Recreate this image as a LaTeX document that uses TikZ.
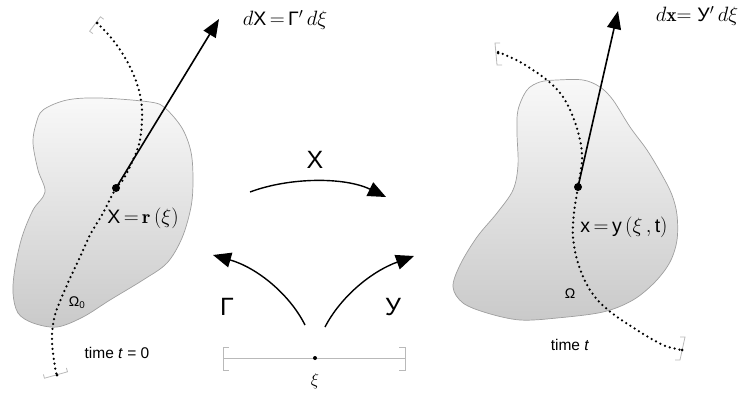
\documentclass[tikz,border=0pt]{standalone}
\usepackage{fontspec}
\setsansfont{Liberation Sans}
\usetikzlibrary{arrows.meta}
\begin{document}
\begin{tikzpicture}[x=1pt,y=-1pt,
  blob/.style={draw=gray!75,line width=0.7pt,top color=gray!5,bottom color=gray!42},
  traj/.style={line width=2.5pt,line cap=round,dash pattern=on 0pt off 5pt},
  bigarrow/.style={line width=1.6pt,-{Triangle[length=18pt,width=14pt]}},
  maparrow/.style={line width=1.4pt,-{Triangle[length=18pt,width=15pt]}},
  brk/.style={draw=gray!55,line width=0.8pt},
  enddot/.style={circle,fill=black,inner sep=0pt,minimum size=3pt},
  ptdot/.style={circle,fill=black,inner sep=0pt,minimum size=8pt},
  lbl/.style={inner sep=0pt,font=\fontsize{19.5}{21}\selectfont},
  biglbl/.style={inner sep=0pt,font=\sffamily\fontsize{25}{27}\selectfont},
  small/.style={inner sep=0pt,font=\sffamily\fontsize{15.5}{17}\selectfont}
]
\path[use as bounding box] (0,0) rectangle (751,396);

% ---------- left body ----------
\draw[blob] plot[smooth cycle,tension=0.55] coordinates {
 (43,110) (67,100) (100,98) (150,102) (165,108) (182,128) (191,152) (193,180)
 (191,207) (182,238) (167,263) (143,280) (110,300) (83,317) (57,327) (33,323)
 (18,313) (13,293) (15,268) (22,237) (33,210) (45,192) (38,170) (33,143) (36,124)};
\draw[traj] plot[smooth,tension=0.6] coordinates {
 (97,23) (113,40) (128,63) (138,87) (142,110) (140,140) (133,160) (123,180) (116,188)
 (103,213) (90,235) (80,257) (67,285) (55,315) (52,340) (55,367) (57,375)};
\draw[brk] (103.6,19.2) -- (100.4,16.8) -- (89.6,31.2) -- (92.8,33.6);
\draw[brk] (66.4,368) -- (67.5,371.8) -- (44.5,378.2) -- (43.4,374.4);
\node[enddot] (La) at (97,23) {};
\node[enddot] (Lb) at (57,375) {};
\node[ptdot] (P) at (116,188) {};
\coordinate (Ptip) at (219,19);
\draw[bigarrow] (P.center) -- (Ptip);
\node[lbl] (dX) at (285,20) {$d$\textsf{X}$\,=\,$\textsf{Γ}$'\,d\xi$};
\node[lbl] (Xr) at (143,218) {\textsf{X}$\,{=}\,\mathbf{r}\,(\xi)$};
\node[small,font=\sffamily\fontsize{14}{16}\selectfont] (O0) at (77,303) {Ω\textsubscript{0}};
\node[small] (t0) at (117,353) {time \textit{t} = 0};

% ---------- right body ----------
\draw[blob] plot[smooth cycle,tension=0.55] coordinates {
 (527,90) (540,82) (557,80) (583,80) (600,87) (613,100) (630,127) (647,150)
 (662,175) (672,195) (677,215) (677,240) (670,262) (655,282) (633,300) (603,312)
 (557,318) (520,320) (487,313) (463,303) (453,287) (460,265) (477,237) (497,213)
 (513,190) (518,165) (517,133) (518,110)};
\draw[traj] plot[smooth,tension=0.6] coordinates {
 (498,52) (520,62) (547,80) (563,97) (573,117) (580,140) (582,160) (578,187)
 (574,213) (573,237) (578,263) (590,290) (608,310) (637,330) (663,345) (682,350)};
\draw[brk] (500,43) -- (495,43) -- (497,65) -- (502,65);
\draw[brk] (680,337) -- (685,337) -- (680,360) -- (675,360);
\node[enddot] (Ra) at (498,53) {};
\node[enddot] (Rb) at (682,350) {};
\node[ptdot] (Q) at (578,187) {};
\coordinate (Qtip) at (618,11);
\draw[bigarrow] (Q.center) -- (Qtip);
\node[lbl] (dx) at (697,16) {$d\mathbf{x}{=}\;$\textsf{У}$'\,d\xi$};
\node[lbl] (xy) at (624,227) {\textsf{x}$\,{=}\,$\textsf{y}$\,(\xi\,,$\,\textsf{t}$)$};
\node[small,font=\sffamily\fontsize{14}{16}\selectfont] (Om) at (570,294) {Ω};
\node[small] (tt) at (570,345) {time \textit{t}};

% ---------- centre ----------
\coordinate (ca) at (250,192);
\coordinate (cb) at (386,197);
\draw[maparrow] (ca) .. controls (290,177) and (345,177) .. (cb);
\node[biglbl] (chi) at (315,160) {X};

\coordinate (ga) at (305,325);
\coordinate (gb) at (213,255);
\draw[maparrow] (ga) .. controls (290,295) and (258,268) .. (gb);
\node[biglbl] (Gam) at (227,307) {Γ};

\coordinate (ya) at (325,327);
\coordinate (yb) at (414,256);
\draw[maparrow] (ya) .. controls (340,298) and (370,272) .. (yb);
\node[biglbl] (Yl) at (393,307) {У};

\coordinate (sa) at (223,358);
\coordinate (sb) at (405,358);
\draw[draw=gray!55,line width=0.9pt] (sa) -- (sb);
\draw[brk] (229,347) -- (223,347) -- (223,370) -- (229,370);
\draw[brk] (399,347) -- (405,347) -- (405,370) -- (399,370);
\node[enddot,minimum size=4pt] (S) at (315,358) {};
\node[inner sep=0pt,font=\fontsize{17}{19}\selectfont] (xi) at (315,381) {$\xi$};
\end{tikzpicture}
\end{document}
